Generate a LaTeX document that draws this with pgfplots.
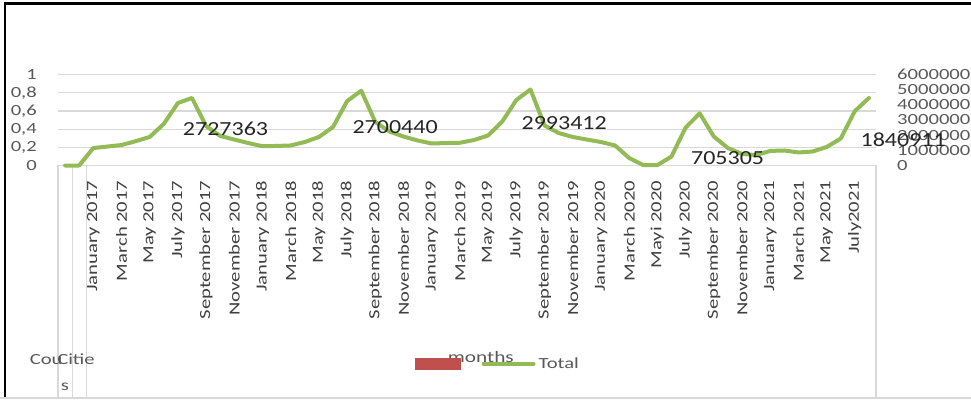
\documentclass[border=0pt]{standalone}
\usepackage{pgfplots}
\pgfplotsset{compat=1.18}
\usepackage{fontspec}
\setmainfont{Carlito}
\newfontfamily\xl[FakeStretch=1.33]{Carlito}
\newfontfamily\dl[FakeStretch=1.2]{Carlito}
\definecolor{cgrid}{HTML}{D9D9D9}
\definecolor{ctext}{HTML}{595959}
\definecolor{cmon}{HTML}{404040}
\definecolor{cdl}{HTML}{262626}
\definecolor{cgreen}{HTML}{93BB55}
\definecolor{cred}{HTML}{C0504D}
\newcommand{\tf}{\xl\fontsize{15.5pt}{18pt}\selectfont}
\newcommand{\tfm}{\xl\fontsize{16pt}{19pt}\selectfont}
\newcommand{\dlf}{\dl\fontsize{20pt}{24pt}\selectfont}

\pgfplotstableread{
x v
0.5 0
1.5 0
2.5 1150000
3.5 1250000
4.5 1350000
5.5 1600000
6.5 1880000
7.5 2740000
8.5 4120000
9.5 4450000
10.5 2600000
11.5 1950000
12.5 1710000
13.5 1480000
14.5 1270000
15.5 1290000
16.5 1320000
17.5 1550000
18.5 1880000
19.5 2540000
20.5 4250000
21.5 4930000
22.5 2870000
23.5 2240000
24.5 1910000
25.5 1650000
26.5 1450000
27.5 1480000
28.5 1500000
29.5 1680000
30.5 1980000
31.5 2900000
32.5 4320000
33.5 5010000
34.5 2640000
35.5 2140000
36.5 1880000
37.5 1710000
38.5 1550000
39.5 1320000
40.5 490000
41.5 30000
42.5 30000
43.5 590000
44.5 2500000
45.5 3440000
46.5 1910000
47.5 1150000
48.5 760000
49.5 690000
50.5 960000
51.5 990000
52.5 860000
53.5 920000
54.5 1220000
55.5 1780000
56.5 3590000
57.5 4450000
}\totaldata

\begin{document}
\begin{tikzpicture}
\useasboundingbox (0pt,0pt) rectangle (971pt,399pt);
\draw[black, line width=2.5pt] (5pt,0pt) -- (5pt,395.5pt) -- (971pt,395.5pt);
\draw[cgrid, line width=1.5pt] (0pt,1pt) -- (971pt,1pt);
\draw[cgrid, line width=1.2pt] (58pt,0pt) -- (58pt,233.5pt);
\draw[cgrid, line width=1.2pt] (72.1pt,0pt) -- (72.1pt,233.5pt);
\draw[cgrid, line width=1.2pt] (86.2pt,0pt) -- (86.2pt,233.5pt);
\draw[cgrid, line width=1.2pt] (876pt,0pt) -- (876pt,233.5pt);

\begin{scope}
\clip (20pt,20pt) rectangle (61pt,60pt);
\node[font=\tf, text=ctext, inner sep=0pt] at (66pt,40pt) {Countrie};
\end{scope}
\node[font=\tf, text=ctext, inner sep=0pt] at (76pt,40pt) {Citie};
\node[font=\tf, text=ctext, inner sep=0pt] at (65pt,12pt) {s};

\begin{axis}[
  at={(58pt,233.5pt)}, anchor=origin,
  scale only axis, width=818pt, height=91pt,
  xmin=0, xmax=58, ymin=0, ymax=1,
  axis x line*=bottom, axis y line*=left,
  x axis line style={draw=cgrid, line width=1.2pt, -},
  y axis line style={draw=none},
  major tick length=0pt,
  ytick={0,0.2,0.4,0.6,0.8,1},
  ymajorgrids, grid style={cgrid, line width=1.2pt},
  xtick={2.5,4.5,...,56.5},
  xticklabels={January 2017, March 2017, May 2017, July 2017, September 2017, November 2017,
    January 2018, March 2018, May 2018, July 2018, September 2018, November 2018,
    January 2019, March 2019, May 2019, July 2019, September 2019, November 2019,
    January 2020, March 2020, Mayi 2020, July 2020, September 2020, November 2020,
    January 2021, March 2021, May 2021, July2021},
  xticklabel style={rotate=90, anchor=east, inner sep=0pt, font=\tf, text=cmon},
  xticklabel shift=15pt,
  yticklabel style={anchor=east, inner sep=0pt, font=\tf, text=ctext},
  yticklabel shift=21pt,
  /pgf/number format/fixed, /pgf/number format/precision=1,
  /pgf/number format/use comma, /pgf/number format/assume math mode=true,
  xlabel={months},
  xlabel style={at={(axis description cs:0.517,-2.10)}, anchor=center, font=\tfm, text=ctext, inner sep=0pt},
]
\addplot[draw=none, forget plot] coordinates {(1,0)};
\end{axis}

\begin{axis}[
  at={(58pt,233.5pt)}, anchor=origin,
  scale only axis, width=818pt, height=91pt,
  xmin=0, xmax=58, ymin=0, ymax=6000000,
  axis x line=none, axis y line*=right,
  y axis line style={draw=none},
  major tick length=0pt,
  ytick={0,1000000,2000000,3000000,4000000,5000000,6000000},
  scaled y ticks=false,
  yticklabel style={anchor=west, inner sep=0pt, font=\tf, text=ctext},
  yticklabel shift=21pt,
  /pgf/number format/fixed, /pgf/number format/1000 sep={},
  /pgf/number format/assume math mode=true,
  clip=false,
  legend columns=2,
  legend style={at={(axis description cs:0.4364,-2.176)}, anchor=west,
    draw=none, fill=none, inner sep=0pt, font=\tf, text=ctext,
    nodes={inner sep=0pt},
    /tikz/every odd column/.append style={column sep=3pt},
    /tikz/every even column/.append style={column sep=17pt}},
]
\addlegendimage{legend image code/.code={\fill[cred] (0pt,-5.5pt) rectangle (45pt,5.5pt);}}
\addlegendentry{}
\addplot[cgreen, line width=4pt, line cap=round, line join=round,
  legend image code/.code={\draw[cgreen, line width=4pt] (0pt,0pt) -- (50pt,0pt);}]
  table[x=x, y=v] {\totaldata};
\addlegendentry{Total}
\node[font=\dlf, text=cdl, inner sep=0pt] at (axis cs:11.88,2450000) {2727363};
\node[font=\dlf, text=cdl, inner sep=0pt] at (axis cs:23.90,2560000) {2700440};
\node[font=\dlf, text=cdl, inner sep=0pt] at (axis cs:35.89,2780000) {2993412};
\node[font=\dlf, text=cdl, inner sep=0pt] at (axis cs:47.48,490000) {705305};
\node[font=\dlf, text=cdl, inner sep=0pt] at (axis cs:59.93,1680000) {1840911};
\end{axis}
\end{tikzpicture}
\end{document}
